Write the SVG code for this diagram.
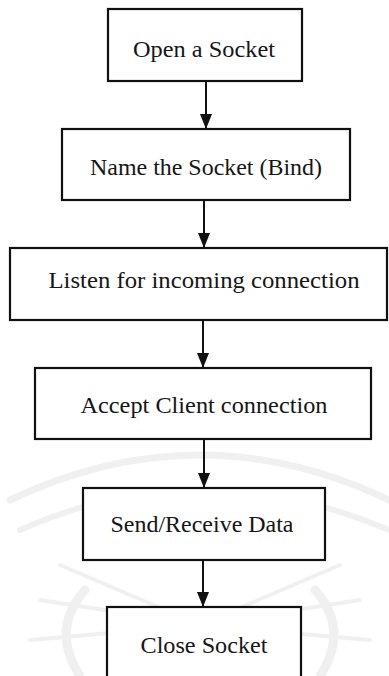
<svg xmlns="http://www.w3.org/2000/svg" width="389" height="676" viewBox="0 0 389 676">
  <style>
    .box { fill: #ffffff; stroke: #111111; stroke-width: 2.2; }
    .lbl { font-family: "Liberation Serif", "Times New Roman", "DejaVu Serif", serif; font-size: 23px; fill: #161616; text-anchor: middle; }
    .edge { stroke: #111111; stroke-width: 2; fill: none; marker-end: url(#head); }
    .wm { fill: none; stroke: #f0f0f0; stroke-linecap: round; }
  </style>
  <defs>
    <marker id="head" viewBox="0 0 15 12" refX="15" refY="6" markerWidth="15" markerHeight="12" markerUnits="userSpaceOnUse" orient="auto">
      <path d="M0,0 L15,6 L0,12 Z" fill="#111111"/>
    </marker>
  </defs>
  <rect width="389" height="676" fill="#ffffff"/>

  <!-- faint background emblem -->
  <g id="emblem">
    <path class="wm" stroke-width="7" d="M10,500 Q200,410 389,500"/>
    <path class="wm" stroke-width="6" d="M20,530 Q200,450 389,530"/>
    <g stroke-width="4" class="wm">
      <line x1="200" y1="625" x2="60" y2="565"/>
      <line x1="200" y1="625" x2="40" y2="600"/>
      <line x1="200" y1="625" x2="30" y2="640"/>
      <line x1="200" y1="625" x2="340" y2="565"/>
      <line x1="200" y1="625" x2="360" y2="600"/>
      <line x1="200" y1="625" x2="370" y2="640"/>
    </g>
    <path class="wm" stroke-width="9" d="M80,676 Q50,630 85,590"/>
    <path class="wm" stroke-width="9" d="M320,676 Q350,630 315,590"/>
  </g>

  <g id="connectors">
    <line class="edge" x1="206" y1="81" x2="206" y2="129"/>
    <line class="edge" x1="204" y1="200" x2="204" y2="248"/>
    <line class="edge" x1="203" y1="320" x2="203" y2="368"/>
    <line class="edge" x1="204" y1="439" x2="204" y2="488"/>
    <line class="edge" x1="203" y1="560" x2="203" y2="607"/>
  </g>

  <g id="open-socket">
    <rect class="box" x="108" y="9" width="194" height="72"/>
    <text class="lbl" x="204" y="57" textLength="142" lengthAdjust="spacingAndGlyphs">Open a Socket</text>
  </g>
  <g id="bind">
    <rect class="box" x="62" y="129" width="288" height="71"/>
    <text class="lbl" x="206" y="175" textLength="232" lengthAdjust="spacingAndGlyphs">Name the Socket (Bind)</text>
  </g>
  <g id="listen">
    <rect class="box" x="10" y="248" width="377" height="72"/>
    <text class="lbl" x="204" y="288" textLength="311" lengthAdjust="spacingAndGlyphs">Listen for incoming connection</text>
  </g>
  <g id="accept">
    <rect class="box" x="35" y="368" width="336" height="71"/>
    <text class="lbl" x="204" y="413" textLength="247" lengthAdjust="spacingAndGlyphs">Accept Client connection</text>
  </g>
  <g id="send-receive">
    <rect class="box" x="83" y="488" width="242" height="72"/>
    <text class="lbl" x="202" y="532" textLength="183" lengthAdjust="spacingAndGlyphs">Send/Receive Data</text>
  </g>
  <g id="close-socket">
    <rect class="box" x="107" y="607" width="194" height="75"/>
    <text class="lbl" x="204" y="653" textLength="127" lengthAdjust="spacingAndGlyphs">Close Socket</text>
  </g>
</svg>
